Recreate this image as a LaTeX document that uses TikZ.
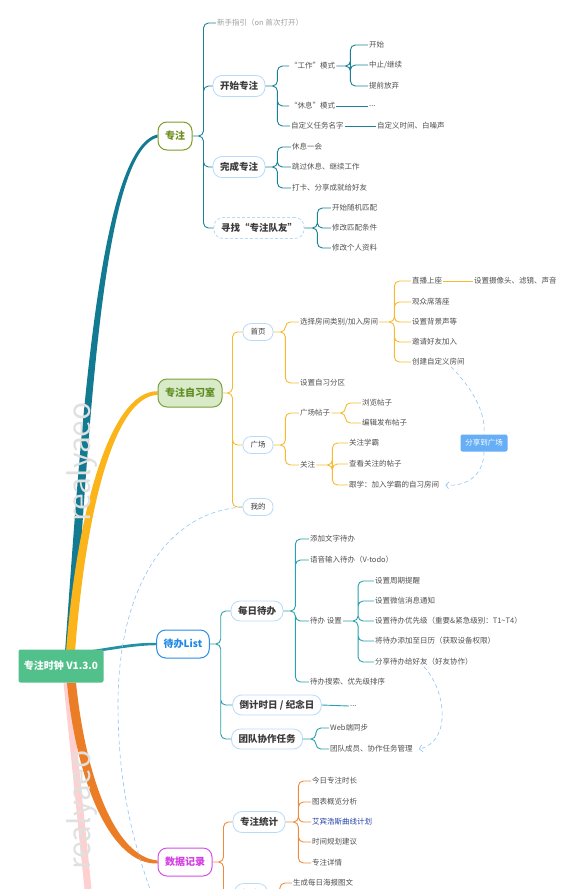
\documentclass[tikz,border=0pt]{standalone}
\usepackage{fontspec}
\setmainfont{Noto Sans CJK SC}
\usetikzlibrary{arrows.meta, calc, backgrounds}
\definecolor{cRoot}{HTML}{52C08B}
\definecolor{cTeal}{HTML}{127B91}
\definecolor{cYel}{HTML}{FBB51A}
\definecolor{cOr}{HTML}{EA7D26}
\definecolor{cPink}{HTML}{FFD0D0}
\definecolor{cDbBr}{HTML}{2390A3}
\definecolor{cZzLn}{HTML}{1B8197}
\definecolor{cZxsLn}{HTML}{F7BA2F}
\definecolor{cDbLn}{HTML}{2BA0AE}
\definecolor{cSjLn}{HTML}{EE8A3C}
\definecolor{cBox}{HTML}{B8DBFB}
\definecolor{cLink}{HTML}{8FC3F4}
\definecolor{cText}{HTML}{505050}
\definecolor{cDark}{HTML}{3A3A3A}
\definecolor{cHint}{HTML}{9E9E9E}
\definecolor{cZz}{HTML}{7D9C25}
\definecolor{cZzT}{HTML}{6A8D1A}
\definecolor{cZxs}{HTML}{7BA23A}
\definecolor{cZxsF}{HTML}{D8EAC8}
\definecolor{cZxsT}{HTML}{5E8C22}
\definecolor{cDb}{HTML}{2A8DE6}
\definecolor{cDbT}{HTML}{1E88E5}
\definecolor{cSj}{HTML}{D64FE6}
\definecolor{cSjT}{HTML}{D43DE3}
\definecolor{cTag}{HTML}{66AEF5}
\definecolor{cBlue}{HTML}{2441A6}

\begin{document}
\begin{tikzpicture}[x=1pt, y=-1pt,
  rootbox/.style={fill=cRoot, rounded corners=2pt, text=white, font=\bfseries\fontsize{10}{12}\selectfont, minimum width=85pt, minimum height=33pt, inner sep=0pt},
  topic/.style={draw, line width=1pt, fill=white, rounded corners=9pt, font=\bfseries\fontsize{10}{12}\selectfont, minimum height=28pt, inner xsep=7pt, inner ysep=0pt},
  sub/.style={draw=cBox, line width=.8pt, fill=white, rounded corners=9pt, font=\bfseries\fontsize{9.5}{11}\selectfont, text=cDark, minimum height=21pt, inner xsep=7pt, inner ysep=0pt},
  tab/.style={draw=cBox, line width=.8pt, fill=white, rounded corners=8pt, font=\fontsize{7.5}{9}\selectfont, text=cDark, minimum width=30pt, minimum height=17pt, inner sep=0pt},
  leaf/.style={anchor=west, inner sep=1pt, text=cText, font=\fontsize{7.5}{9}\selectfont},
  tag/.style={fill=cTag, rounded corners=2pt, text=white, font=\fontsize{7.5}{9}\selectfont, minimum width=47pt, minimum height=17pt, inner sep=0pt},
  wmark/.style={rotate=90, text=black!12, font=\fontsize{30}{30}\selectfont},
  link/.style={draw=cLink, line width=.6pt, dash pattern=on 4pt off 3pt},
  tip/.style={-{Straight Barb[length=3pt, width=7pt]}},
  zzln/.style={draw=cZzLn, line width=.9pt, rounded corners=5pt},
  zxsln/.style={draw=cZxsLn, line width=.9pt, rounded corners=5pt},
  dbln/.style={draw=cDbLn, line width=.9pt, rounded corners=5pt},
  sjln/.style={draw=cSjLn, line width=.9pt, rounded corners=5pt}
]
\useasboundingbox (0,0) rectangle (581,889);
\clip (0,0) rectangle (581,889);

\node[rootbox] (root) at (61,666) {专注时钟 V1.3.0};

\node[topic, draw=cZz, text=cZzT] (zz) at (175,136) {专注};
\node[leaf, text=cHint] (xsyd) at (216,23) {新手指引（on 首次打开）};
\node[sub] (kszz) at (239,86) {开始专注};
\node[sub] (wczz) at (239,167) {完成专注};
\node[sub, dash pattern=on 3pt off 2pt] (xzdy) at (259,228) {寻找“专注队友”};
\node[leaf] (gzms) at (289,66) {“工作”模式};
\node[leaf] (xxms) at (289,106) {“休息”模式};
\node[leaf] (zdymz) at (290,126) {自定义任务名字};
\node[leaf] (ks) at (368,45) {开始};
\node[leaf] (zzjx) at (368,65) {中止/继续};
\node[leaf] (tqfq) at (368,86) {提前放弃};
\node[leaf] (dd1) at (368,106) {...};
\node[leaf] (zdysj) at (376,126) {自定义时间、白噪声};
\node[leaf] (xxyh) at (291,147) {休息一会};
\node[leaf] (tgxx) at (291,167) {跳过休息、继续工作};
\node[leaf] (dkfx) at (291,188) {打卡、分享成就给好友};
\node[leaf] (sjpp) at (331,208) {开始随机匹配};
\node[leaf] (xgtj) at (331,228) {修改匹配条件};
\node[leaf] (xgzl) at (331,248) {修改个人资料};

\node[topic, draw=cZxs, fill=cZxsF, text=cZxsT] (zxs) at (190,393) {专注自习室};
\node[tab] (sy) at (258,332) {首页};
\node[tab] (gc) at (258,445) {广场};
\node[tab] (wd) at (258,507) {我的};
\node[leaf] (xzfj) at (299,322) {选择房间类别/加入房间};
\node[leaf] (szfq) at (299,383) {设置自习分区};
\node[leaf] (zbsz) at (411,281) {直播上座};
\node[leaf] (gzxl) at (411,302) {观众席落座};
\node[leaf] (szbj) at (411,322) {设置背景声等};
\node[leaf] (yqhy) at (411,342) {邀请好友加入};
\node[leaf] (cjfj) at (411,362) {创建自定义房间};
\node[leaf] (sxt) at (473,281) {设置摄像头、滤镜、声音};
\node[leaf] (gctz) at (299,413) {广场帖子};
\node[leaf] (gz) at (299,465) {关注};
\node[leaf] (llz) at (361,403) {浏览帖子};
\node[leaf] (bjfb) at (361,423) {编辑发布帖子};
\node[leaf] (gzxb) at (348,443) {关注学霸};
\node[leaf] (ckgz) at (348,464) {查看关注的帖子};
\node[leaf] (gx) at (348,485) {跟学：加入学霸的自习房间};
\node[tag] (fxgc) at (484,443) {分享到广场};

\node[topic, draw=cDb, text=cDbT] (dbl) at (183,644) {待办List};
\node[sub, minimum height=20pt] (mrdb) at (257,611) {每日待办};
\node[sub, minimum height=20pt] (djs) at (277,705) {倒计时日 / 纪念日};
\node[sub, minimum height=20pt] (tdxz) at (267,739) {团队协作任务};
\node[leaf] (tjwz) at (309,539) {添加文字待办};
\node[leaf] (yysr) at (309,560) {语音输入待办（V-todo）};
\node[leaf] (dbsz) at (309,621) {待办 设置};
\node[leaf] (dbss) at (309,682) {待办搜索、优先级排序};
\node[leaf] (zqtx) at (374,581) {设置周期提醒};
\node[leaf] (wxtz) at (374,601) {设置微信消息通知};
\node[leaf] (yxj) at (374,621) {设置待办优先级（重要\&紧急级别：T1\textasciitilde T4）};
\node[leaf] (tjrl) at (374,641) {将待办添加至日历（获取设备权限）};
\node[leaf] (fxhy) at (374,662) {分享待办给好友（好友协作）};
\node[leaf] (dd2) at (349,706) {...};
\node[leaf] (webtb) at (329,728) {Web端同步};
\node[leaf] (tdcy) at (329,749) {团队成员、协作任务管理};

\node[topic, draw=cSj, text=cSjT] (sj) at (185,862) {数据记录};
\node[sub] (zztj) at (259,822) {专注统计};
\node[sub] (dk) at (251,894) {打卡};
\node[leaf] (jrsc) at (311,781) {今日专注时长};
\node[leaf] (tbgl) at (311,802) {图表概览分析};
\node[leaf, text=cBlue] (abhs) at (311,822) {艾宾浩斯曲线计划};
\node[leaf] (sjgh) at (311,842) {时间规划建议};
\node[leaf] (zzxq) at (311,863) {专注详情};
\node[leaf] (hbtw) at (292,883) {生成每日海报图文};

\begin{scope}[on background layer]
\coordinate (hub) at (69,652);
\coordinate (pinkend) at (88,889);
\draw[cPink, line width=7pt] ($(root.south)+(6,0)$) -- (pinkend);
\fill[cTeal] ($(hub)+(-4,0)$) .. controls (81,430) and (98,148) .. ($(zz.west)+(0,-1.5)$) -- ($(zz.west)+(0,1.5)$) .. controls (102,152) and (89,430) .. ($(hub)+(5,0)$) -- cycle;
\fill[cYel] ($(hub)+(-3,0)$) .. controls (76,520) and (108,391) .. ($(zxs.west)+(0,-1.8)$) -- ($(zxs.west)+(0,1.8)$) .. controls (112,397) and (85,520) .. ($(hub)+(6,0)$) -- cycle;
\fill[cDbBr] ($(hub)+(2,1)$) .. controls (110,648) and (130,642.5) .. ($(dbl.west)+(0,-1.2)$) -- ($(dbl.west)+(0,1.2)$) .. controls (130,645.5) and (110,651) .. ($(hub)+(2,3)$) -- cycle;
\fill[cOr] ($(root.south)+(6,0)$) .. controls (76,780) and (110,865) .. ($(sj.west)+(0,1.5)$) -- ($(sj.west)+(0,-1.5)$) .. controls (116,857) and (86,780) .. ($(root.south)+(15,0)$) -- cycle;
\end{scope}

\draw[zzln] (zz.east) -- ++(11,0) |- (xsyd.west) (zz.east) -- ++(11,0) |- (kszz.west)
  (zz.east) -- ++(11,0) |- (wczz.west) (zz.east) -- ++(11,0) |- (xzdy.west);
\draw[zzln] (kszz.east) -- ++(12,0) |- (gzms.west) (kszz.east) -- ++(12,0) |- (xxms.west)
  (kszz.east) -- ++(12,0) |- (zdymz.west);
\draw[zzln] (gzms.east) -- ++(14,0) |- (ks.west) (gzms.east) -- ++(14,0) |- (zzjx.west)
  (gzms.east) -- ++(14,0) |- (tqfq.west);
\draw[zzln] (xxms.east) -- (dd1.west);
\draw[zzln] (zdymz.east) -- (zdysj.west);
\draw[zzln] (wczz.east) -- ++(12,0) |- (xxyh.west) (wczz.east) -- ++(12,0) |- (tgxx.west)
  (wczz.east) -- ++(12,0) |- (dkfx.west);
\draw[zzln] (xzdy.east) -- ++(13,0) |- (sjpp.west) (xzdy.east) -- ++(13,0) |- (xgtj.west)
  (xzdy.east) -- ++(13,0) |- (xgzl.west);

\draw[zxsln] (zxs.east) -- ++(10,0) |- (sy.west) (zxs.east) -- ++(10,0) |- (gc.west)
  (zxs.east) -- ++(10,0) |- (wd.west);
\draw[zxsln] (sy.east) -- ++(12,0) |- (xzfj.west) (sy.east) -- ++(12,0) |- (szfq.west);
\draw[zxsln] (xzfj.east) -- ++(15,0) |- (zbsz.west) (xzfj.east) -- ++(15,0) |- (gzxl.west)
  (xzfj.east) -- ++(15,0) |- (szbj.west) (xzfj.east) -- ++(15,0) |- (yqhy.west)
  (xzfj.east) -- ++(15,0) |- (cjfj.west);
\draw[zxsln] (zbsz.east) -- (sxt.west);
\draw[zxsln] (gc.east) -- ++(12,0) |- (gctz.west) (gc.east) -- ++(12,0) |- (gz.west);
\draw[zxsln] (gctz.east) -- ++(14,0) |- (llz.west) (gctz.east) -- ++(14,0) |- (bjfb.west);
\draw[zxsln] (gz.east) -- ++(16,0) |- (gzxb.west) (gz.east) -- ++(16,0) |- (ckgz.west)
  (gz.east) -- ++(16,0) |- (gx.west);

\draw[dbln] (dbl.east) -- ++(11,0) |- (mrdb.west) (dbl.east) -- ++(11,0) |- (djs.west)
  (dbl.east) -- ++(11,0) |- (tdxz.west);
\draw[dbln] (mrdb.east) -- ++(12,0) |- (tjwz.west) (mrdb.east) -- ++(12,0) |- (yysr.west)
  (mrdb.east) -- ++(12,0) |- (dbsz.west) (mrdb.east) -- ++(12,0) |- (dbss.west);
\draw[dbln] (dbsz.east) -- ++(15,0) |- (zqtx.west) (dbsz.east) -- ++(15,0) |- (wxtz.west)
  (dbsz.east) -- ++(15,0) |- (yxj.west) (dbsz.east) -- ++(15,0) |- (tjrl.west)
  (dbsz.east) -- ++(15,0) |- (fxhy.west);
\draw[dbln] (djs.east) -- (dd2.west);
\draw[dbln] (tdxz.east) -- ++(13,0) |- (webtb.west) (tdxz.east) -- ++(13,0) |- (tdcy.west);

\draw[sjln] (sj.east) -- ++(11,0) |- (zztj.west) (sj.east) -- ++(11,0) |- (dk.west);
\draw[sjln] (zztj.east) -- ++(13,0) |- (jrsc.west) (zztj.east) -- ++(13,0) |- (tbgl.west)
  (zztj.east) -- ++(13,0) |- (abhs.west) (zztj.east) -- ++(13,0) |- (sjgh.west)
  (zztj.east) -- ++(13,0) |- (zzxq.west);
\draw[sjln] (dk.east) -- ++(12,0) |- (hbtw.west);

\coordinate (wdend) at (152,895);
\draw[link] ($(cjfj.south west)+(40,0)$) .. controls (472,388) and (486,412) .. (fxgc.north);
\draw[link, tip] (fxgc.south) .. controls (484,472) and (470,487) .. ($(gx.east)+(5,0)$);
\draw[link] (wd.west) .. controls (165,512) and (118,590) .. (118,705) .. controls (118,800) and (140,860) .. (wdend);
\draw[link, tip] ($(fxhy.south west)+(50,0)$) .. controls (446,690) and (452,742) .. ($(tdcy.east)+(5,0)$);

\node[wmark] (wm1) at (82,462) {realyaeo};
\node[wmark] (wm2) at (82,810) {realyaeo};
\end{tikzpicture}
\end{document}
